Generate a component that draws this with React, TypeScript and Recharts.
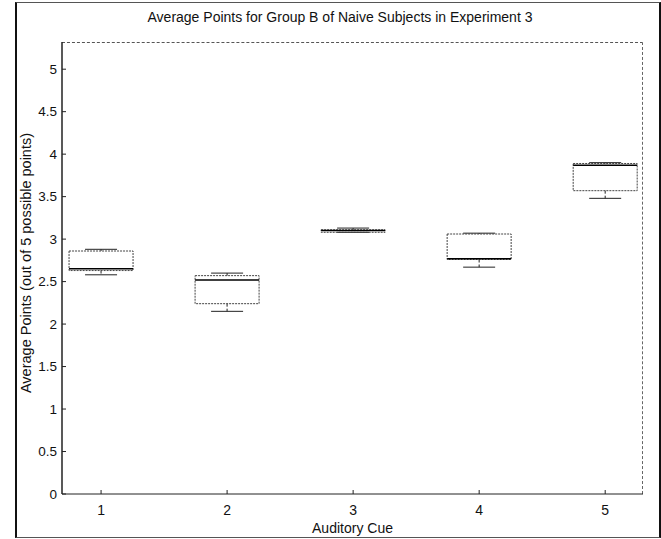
import { ComposedChart, Bar, XAxis, YAxis } from "recharts";

const cues = [1, 2, 3, 4, 5];
const lowerWhisker = [2.58, 2.15, 3.08, 2.67, 3.48];
const lowerQuartile = [2.63, 2.24, 3.08, 2.76, 3.57];
const medians = [2.65, 2.52, 3.1, 2.77, 3.87];
const upperQuartile = [2.86, 2.57, 3.11, 3.06, 3.89];
const upperWhisker = [2.88, 2.6, 3.13, 3.07, 3.9];
const yTicks = [0, 0.5, 1, 1.5, 2, 2.5, 3, 3.5, 4, 4.5, 5];

const data = cues.map((cue, i) => ({
  cue,
  min: lowerWhisker[i],
  q1: lowerQuartile[i],
  median: medians[i],
  q3: upperQuartile[i],
  max: upperWhisker[i],
}));

const font = "'Liberation Sans', Arial, sans-serif";

// box drawn inside the [min, max] range bar
function BoxShape(props: any) {
  const { x, y, width, height, payload } = props;
  const { min, q1, median, q3, max } = payload;
  const span = max - min || 1;
  const py = (v: number) => y + (height * (max - v)) / span;
  const cx = x + width / 2;
  const cap = width / 4;
  return (
    <g>
      <line x1={cx} x2={cx} y1={py(max)} y2={py(q3)} stroke="#222" strokeDasharray="3 2" />
      <line x1={cx} x2={cx} y1={py(q1)} y2={py(min)} stroke="#222" strokeDasharray="3 2" />
      <line x1={cx - cap} x2={cx + cap} y1={py(max)} y2={py(max)} stroke="#222" />
      <line x1={cx - cap} x2={cx + cap} y1={py(min)} y2={py(min)} stroke="#222" />
      <rect
        x={x}
        y={py(q3)}
        width={width}
        height={Math.max(py(q1) - py(q3), 0.5)}
        fill="none"
        stroke="#444"
        strokeDasharray="2 1"
      />
      <line x1={x} x2={x + width} y1={py(median)} y2={py(median)} stroke="#000" strokeWidth={1.5} />
    </g>
  );
}

export default function App() {
  return (
    <div
      style={{
        position: "absolute",
        left: 0,
        top: 0,
        width: 661,
        height: 539,
        background: "#fff",
        fontFamily: font,
      }}
    >
      {/* figure frame */}
      <div
        style={{
          position: "absolute",
          left: 15,
          top: 2,
          width: 642,
          height: 534,
          borderLeft: "2px solid #111",
          borderTop: "1px solid #555",
          borderRight: "2px solid #111",
          borderBottom: "1px solid #555",
        }}
      />
      <div
        style={{
          position: "absolute",
          left: 0,
          width: 680,
          top: 9,
          textAlign: "center",
          fontSize: 14,
          color: "#111",
        }}
      >
        Average Points for Group B of Naive Subjects in Experiment 3
      </div>
      {/* axes box */}
      <div
        style={{
          position: "absolute",
          left: 62,
          top: 42,
          width: 580,
          height: 451,
          borderTop: "1px dashed #555",
          borderRight: "1px dashed #666",
        }}
      />
      <ComposedChart
        width={661}
        height={539}
        data={data}
        margin={{ top: 42, right: 18, bottom: 6, left: 2 }}
        style={{ position: "absolute", left: 0, top: 0 }}
      >
        <XAxis
          dataKey="cue"
          type="number"
          domain={[0.69, 5.3]}
          ticks={cues}
          height={39}
          tickSize={-4}
          tickMargin={15}
          axisLine={{ stroke: "#222" }}
          tickLine={{ stroke: "#222" }}
          tick={{ fill: "#111", fontSize: 14, fontFamily: font }}
          label={{
            value: "Auditory Cue",
            position: "insideBottom",
            offset: 0,
            fill: "#111",
            fontSize: 14,
            fontFamily: font,
          }}
        />
        <YAxis
          type="number"
          domain={[0, 5.32]}
          ticks={yTicks}
          width={60}
          tickSize={-4}
          tickMargin={9}
          axisLine={{ stroke: "#222", strokeWidth: 1.5 }}
          tickLine={{ stroke: "#222" }}
          tick={{ fill: "#111", fontSize: 13.5, fontFamily: font }}
          label={{
            value: "Average Points (out of 5 possible points)",
            angle: -90,
            position: "insideLeft",
            offset: 24,
            dy: -5,
            fill: "#111",
            fontSize: 14.5,
            fontFamily: font,
            style: { textAnchor: "middle" },
          }}
        />
        <Bar
          dataKey={(d: any) => [d.min, d.max]}
          barSize={64}
          shape={<BoxShape />}
          isAnimationActive={false}
        />
      </ComposedChart>
    </div>
  );
}
